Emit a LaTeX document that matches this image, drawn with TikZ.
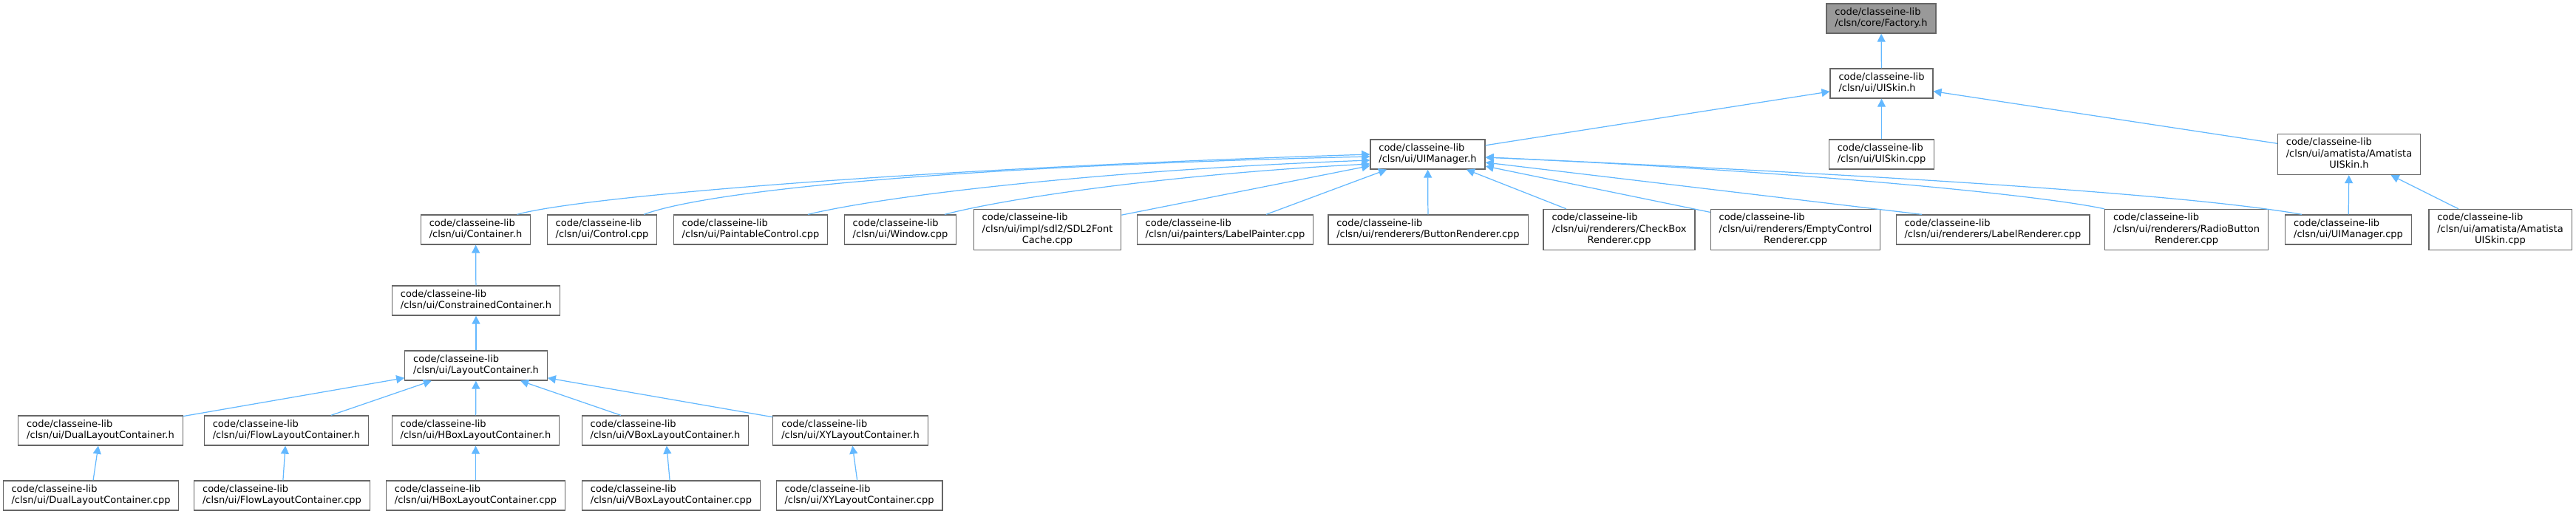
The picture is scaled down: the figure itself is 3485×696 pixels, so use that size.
\documentclass[tikz,border=0pt]{standalone}
\usepackage{fontspec}
\setmainfont{DejaVu Sans}
\usetikzlibrary{arrows.meta}
\definecolor{edgeblue}{HTML}{63B8FF}
\definecolor{boxgray}{HTML}{666666}
\definecolor{rootgray}{HTML}{999999}
\newcommand{\flines}[1]{\begin{tabular}{@{}l@{}}#1\end{tabular}}
\newcommand{\lastline}[1]{\multicolumn{1}{@{}c@{}}{#1}}

\begin{document}
\begin{tikzpicture}[x=0.02cm, y=0.02cm,
  file/.style={rectangle, draw=boxgray, fill=white, line width=0.7pt, inner xsep=6.5pt, inner ysep=2.8pt,
    font=\fontsize{7.4}{8.6}\selectfont},
  root/.style={file, fill=rootgray},
  inc/.style={-{Triangle[length=0.22cm, width=0.22cm]}, draw=edgeblue, line width=0.7pt},
]
  \useasboundingbox (0,0) rectangle (3485,-696);

  % Top of the graph
  \node[root] (factory) at (2545, -25) {\flines{code/classeine-lib\\/clsn/core/Factory.h}};
  \node[file] (uiskinh) at (2545.5, -113) {\flines{code/classeine-lib\\/clsn/ui/UISkin.h}};
  \node[file] (uimgrh) at (1931.5, -209) {\flines{code/classeine-lib\\/clsn/ui/UIManager.h}};
  \node[file] (uiskincpp) at (2545.5, -209) {\flines{code/classeine-lib\\/clsn/ui/UISkin.cpp}};
  \node[file] (amatistah) at (3178, -209) {\flines{code/classeine-lib\\/clsn/ui/amatista/Amatista\\\lastline{UISkin.h}}};

  % Files including UIManager.h
  \node[file] (container) at (643.5, -311) {\flines{code/classeine-lib\\/clsn/ui/Container.h}};
  \node[file] (control) at (814.5, -311) {\flines{code/classeine-lib\\/clsn/ui/Control.cpp}};
  \node[file] (paintable) at (1015.5, -311) {\flines{code/classeine-lib\\/clsn/ui/PaintableControl.cpp}};
  \node[file] (window) at (1218, -311) {\flines{code/classeine-lib\\/clsn/ui/Window.cpp}};
  \node[file] (sdlfont) at (1417, -311) {\flines{code/classeine-lib\\/clsn/ui/impl/sdl2/SDL2Font\\\lastline{Cache.cpp}}};
  \node[file] (labelpainter) at (1657.5, -311) {\flines{code/classeine-lib\\/clsn/ui/painters/LabelPainter.cpp}};
  \node[file] (button) at (1932, -311) {\flines{code/classeine-lib\\/clsn/ui/renderers/ButtonRenderer.cpp}};
  \node[file] (checkbox) at (2190.5, -311) {\flines{code/classeine-lib\\/clsn/ui/renderers/CheckBox\\\lastline{Renderer.cpp}}};
  \node[file] (emptyctrl) at (2429, -311) {\flines{code/classeine-lib\\/clsn/ui/renderers/EmptyControl\\\lastline{Renderer.cpp}}};
  \node[file] (labelrend) at (2696, -311) {\flines{code/classeine-lib\\/clsn/ui/renderers/LabelRenderer.cpp}};
  \node[file] (radio) at (2958, -311) {\flines{code/classeine-lib\\/clsn/ui/renderers/RadioButton\\\lastline{Renderer.cpp}}};
  \node[file] (uimgrcpp) at (3177, -311) {\flines{code/classeine-lib\\/clsn/ui/UIManager.cpp}};
  \node[file] (amatistacpp) at (3382.5, -311) {\flines{code/classeine-lib\\/clsn/ui/amatista/Amatista\\\lastline{UISkin.cpp}}};

  % Container chain
  \node[file] (constrained) at (644, -407) {\flines{code/classeine-lib\\/clsn/ui/ConstrainedContainer.h}};
  \node[file] (layout) at (644, -495) {\flines{code/classeine-lib\\/clsn/ui/LayoutContainer.h}};

  % Layout headers
  \node[file] (dualh) at (136, -583) {\flines{code/classeine-lib\\/clsn/ui/DualLayoutContainer.h}};
  \node[file] (flowh) at (387.5, -583) {\flines{code/classeine-lib\\/clsn/ui/FlowLayoutContainer.h}};
  \node[file] (hboxh) at (643.5, -583) {\flines{code/classeine-lib\\/clsn/ui/HBoxLayoutContainer.h}};
  \node[file] (vboxh) at (900, -583) {\flines{code/classeine-lib\\/clsn/ui/VBoxLayoutContainer.h}};
  \node[file] (xyh) at (1150.5, -583) {\flines{code/classeine-lib\\/clsn/ui/XYLayoutContainer.h}};

  % Layout sources
  \node[file] (dualcpp) at (123, -671) {\flines{code/classeine-lib\\/clsn/ui/DualLayoutContainer.cpp}};
  \node[file] (flowcpp) at (381.5, -671) {\flines{code/classeine-lib\\/clsn/ui/FlowLayoutContainer.cpp}};
  \node[file] (hboxcpp) at (643.5, -671) {\flines{code/classeine-lib\\/clsn/ui/HBoxLayoutContainer.cpp}};
  \node[file] (vboxcpp) at (908, -671) {\flines{code/classeine-lib\\/clsn/ui/VBoxLayoutContainer.cpp}};
  \node[file] (xycpp) at (1162.5, -671) {\flines{code/classeine-lib\\/clsn/ui/XYLayoutContainer.cpp}};

  % Include arrows, upper part
  \draw[inc] (uiskinh) -- (factory);
  \draw[inc] (uimgrh) -- (uiskinh);
  \draw[inc] (uiskincpp) -- (uiskinh);
  \draw[inc] (amatistah) -- (uiskinh);
  \draw[inc] (uimgrcpp) -- (amatistah);
  \draw[inc] (amatistacpp) -- (amatistah);

  % Include arrows into UIManager.h
  \draw[inc] ([xshift=1.12cm]container.north) .. controls +(91,25) and +(-605,-19) .. (uimgrh.west);
  \draw[inc] ([xshift=1.13cm]control.north) .. controls +(89,33) and +(-555,-13) .. ([yshift=-0.06cm]uimgrh.west);
  \draw[inc] ([xshift=1.55cm]paintable.north) .. controls +(107,26) and +(-355,-13) .. ([yshift=-0.16cm]uimgrh.west);
  \draw[inc] ([xshift=1.2cm]window.north) .. controls +(92,24) and +(-255,-13) .. ([yshift=-0.26cm]uimgrh.west);
  \draw[inc] (sdlfont) -- (uimgrh);
  \draw[inc] (labelpainter) -- (uimgrh);
  \draw[inc] (button) -- (uimgrh);
  \draw[inc] (checkbox) -- (uimgrh);
  \draw[inc] (emptyctrl) -- (uimgrh);
  \draw[inc] ([xshift=-1.92cm]labelrend.north) -- ([yshift=-0.22cm]uimgrh.east);
  \draw[inc] (radio.north west) .. controls +(-99,21) and +(390,-17) .. ([yshift=-0.08cm]uimgrh.east);
  \draw[inc] ([xshift=-1.26cm]uimgrcpp.north) .. controls +(-164,29) and +(490,-22) .. ([yshift=-0.08cm]uimgrh.east);

  % Include arrows, container chain
  \draw[inc] (constrained) -- (container);
  \draw[inc] (layout) -- (constrained);
  \draw[inc] (dualh) -- (layout);
  \draw[inc] (flowh) -- (layout);
  \draw[inc] (hboxh) -- (layout);
  \draw[inc] (vboxh) -- (layout);
  \draw[inc] (xyh) -- (layout);
  \draw[inc] (dualcpp) -- (dualh);
  \draw[inc] (flowcpp) -- (flowh);
  \draw[inc] (hboxcpp) -- (hboxh);
  \draw[inc] (vboxcpp) -- (vboxh);
  \draw[inc] (xycpp) -- (xyh);
\end{tikzpicture}
\end{document}
